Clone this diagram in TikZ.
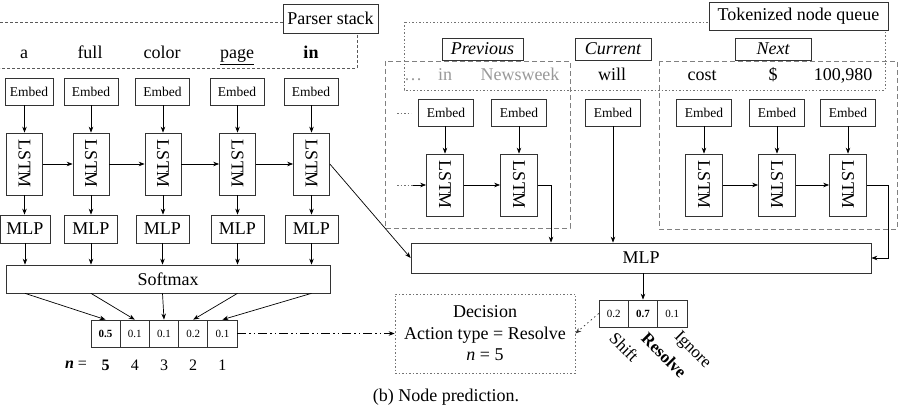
\documentclass[tikz,border=0pt]{standalone}
\usepackage{fontspec}
\usepackage{graphicx}
\setmainfont{Liberation Serif}
\usetikzlibrary{arrows.meta,calc}
\newcommand\fsz[1]{\fontsize{#1}{#1}\selectfont}
\begin{document}
\begin{tikzpicture}[x=1pt,y=-1pt,
  every node/.style={inner sep=0pt, font=\fsz{18}},
  box/.style={draw=black!80, line width=0.7pt, fill=white, inner sep=0pt},
  embedbox/.style={box, minimum width=54pt, minimum height=27pt, font=\fsz{13.5}},
  lstmbox/.style={box, minimum width=36pt, minimum height=62pt, font=\fsz{18}},
  mlpbox/.style={box, minimum width=53pt, minimum height=28pt, font=\fsz{18}},
  cellbox/.style={box, minimum width=29.2pt, minimum height=27pt, font=\fsz{11}},
  tagbox/.style={box, minimum width=76pt, minimum height=22pt, font=\fsz{18}\itshape},
  arr/.style={-{Stealth[length=6pt,width=4.5pt]}, line width=0.7pt, black},
  psdash/.style={draw=black!65, line width=0.6pt, dash pattern=on 3pt off 2pt},
  tqdot/.style={draw=black!55, line width=0.7pt, dash pattern=on 1.5pt off 2pt},
  grpdash/.style={draw=black!50, line width=0.7pt, dash pattern=on 5pt off 3pt},
  ddarrow/.style={-{Stealth[length=6pt,width=4.5pt]}, line width=0.7pt, black, dash pattern=on 9pt off 3pt on 1.5pt off 3pt on 1.5pt off 3pt},
  dotarr/.style={-{Stealth[length=6pt,width=4.5pt]}, line width=0.7pt, black!80, dash pattern=on 1.5pt off 3pt},
  graytext/.style={text=black!40},
  rotlab/.style={anchor=north west, font=\fsz{17}}
]
\useasboundingbox (0,0) rectangle (903,406);

% ---------- Parser stack ----------
\draw[psdash] (0,22) -- (357,22) -- (357,68) -- (0,68);
\node[box, minimum width=95pt, minimum height=29pt] (ps) at (330.5,18.5) {Parser stack};
\node[anchor=base] (w1) at (24,59) {a};
\node[anchor=base] (w2) at (90,59) {full};
\node[anchor=base] (w3) at (162,59) {color};
\node[anchor=base] (w4) at (237,59) {\underline{page}};
\node[anchor=base] (w5) at (311,59) {\textbf{in}};

\node[embedbox, minimum width=48pt] (e1) at (29,91.5) {Embed};
\node[embedbox] (e2) at (91,91.5) {Embed};
\node[embedbox] (e3) at (162.5,91.5) {Embed};
\node[embedbox] (e4) at (237,91.5) {Embed};
\node[embedbox] (e5) at (311,91.5) {Embed};

\node[lstmbox] (l1) at (24.5,164) {\rotatebox{-90}{LSTM}};
\node[lstmbox] (l2) at (91,164) {\rotatebox{-90}{LSTM}};
\node[lstmbox] (l3) at (163,164) {\rotatebox{-90}{LSTM}};
\node[lstmbox] (l4) at (237.5,164) {\rotatebox{-90}{LSTM}};
\node[lstmbox] (l5) at (311.5,164) {\rotatebox{-90}{LSTM}};

\node[mlpbox, minimum width=50pt] (m1) at (25,229) {MLP};
\node[mlpbox] (m2) at (91,229) {MLP};
\node[mlpbox] (m3) at (162.5,229) {MLP};
\node[mlpbox] (m4) at (237.5,229) {MLP};
\node[mlpbox] (m5) at (311.5,229) {MLP};

\node[box, minimum width=324pt, minimum height=28pt] (sm) at (168,279) {Softmax};

\foreach \i in {1,...,5}{
  \draw[arr] (e\i.south -| l\i.north) -- (l\i.north);
  \draw[arr] (l\i.south) -- (l\i.south |- m\i.north);
  \draw[arr] (m\i.south) -- (m\i.south |- sm.north);
}
\draw[arr] (l1.east) -- (l2.west);
\draw[arr] (l2.east) -- (l3.west);
\draw[arr] (l3.east) -- (l4.west);
\draw[arr] (l4.east) -- (l5.west);

\node[cellbox] (c1) at (105.6,333.5) {\textbf{0.5}};
\node[cellbox] (c2) at (134.8,333.5) {0.1};
\node[cellbox] (c3) at (164,333.5) {0.1};
\node[cellbox] (c4) at (193.2,333.5) {0.2};
\node[cellbox] (c5) at (222.4,333.5) {0.1};
\foreach \i in {1,...,5}{
  \draw[arr] (sm.south -| m\i.south) -- (c\i.north);
}

\node[font=\fsz{16}] (nlab) at (76,365) {\textbf{\textit{n}} =};
\node[font=\fsz{16}] (n1) at (c1 |- nlab) {\textbf{5}};
\node[font=\fsz{16}] (n2) at (c2 |- nlab) {4};
\node[font=\fsz{16}] (n3) at (c3 |- nlab) {3};
\node[font=\fsz{16}] (n4) at (c4 |- nlab) {2};
\node[font=\fsz{16}] (n5) at (c5 |- nlab) {1};

% ---------- Decision ----------
\node[tqdot, minimum width=180pt, minimum height=79pt, align=center, font=\fontsize{18}{21.5}\selectfont] (dec) at (485,333.5) {Decision\\Action type = Resolve\\\textit{n} = 5};
\draw[ddarrow] (c5.east) -- (dec.west);

% ---------- Tokenized node queue ----------
\draw[tqdot] (404,22) rectangle (885,90);
\node[box, minimum width=179pt, minimum height=28pt] (tq) at (798.5,16) {Tokenized node queue};

\node[tagbox, minimum width=81pt] (prev) at (482.5,49) {Previous};
\node[tagbox] (cur) at (613,49) {Current};
\node[tagbox] (next) at (773,49) {Next};

\draw[grpdash] (385,61) rectangle (570,228);
\draw[grpdash] (659,61) rectangle (897,229);

\node[anchor=base, graytext] (t0) at (413,81) {\dots};
\node[anchor=base, graytext] (t1) at (445,81) {in};
\node[anchor=base, graytext] (t2) at (520,81) {Newsweek};
\node[anchor=base] (t3) at (612,81) {will};
\node[anchor=base] (t4) at (702,81) {cost};
\node[anchor=base] (t5) at (773,81) {\$};
\node[anchor=base] (t6) at (843,81) {100,980};

\node[embedbox, minimum width=55pt] (pe1) at (446,112.5) {Embed};
\node[embedbox, minimum width=55pt] (pe2) at (519,112.5) {Embed};
\node[embedbox, minimum width=55pt] (ce) at (613,112.5) {Embed};
\node[embedbox, minimum width=55pt] (ne1) at (704,112.5) {Embed};
\node[embedbox, minimum width=55pt] (ne2) at (777,112.5) {Embed};
\node[embedbox, minimum width=55pt] (ne3) at (848,112.5) {Embed};

\node[lstmbox, minimum width=37pt] (pl1) at (445,185) {\rotatebox{-90}{LSTM}};
\node[lstmbox, minimum width=37pt] (pl2) at (519,185) {\rotatebox{-90}{LSTM}};
\node[lstmbox, minimum width=37pt] (nl1) at (704,185) {\rotatebox{-90}{LSTM}};
\node[lstmbox, minimum width=37pt] (nl2) at (777,185) {\rotatebox{-90}{LSTM}};
\node[lstmbox, minimum width=37pt] (nl3) at (848,185) {\rotatebox{-90}{LSTM}};

\node[box, minimum width=460pt, minimum height=30pt] (bm) at (641,258) {MLP};

\coordinate (ed0) at (397,113);
\coordinate (ed1) at (411,113);
\draw[tqdot] (ed0) -- (ed1);
\coordinate (li0) at (397,185);
\coordinate (li1) at (413,185);
\draw[tqdot] (li0) -- (li1);
\draw[arr] (li1) -- (pl1.west);

\draw[arr] (pe1.south -| pl1.north) -- (pl1.north);
\draw[arr] (pe2.south -| pl2.north) -- (pl2.north);
\draw[arr] (ne1.south -| nl1.north) -- (nl1.north);
\draw[arr] (ne2.south -| nl2.north) -- (nl2.north);
\draw[arr] (ne3.south -| nl3.north) -- (nl3.north);
\draw[arr] (pl1.east) -- (pl2.west);
\draw[arr] (nl1.east) -- (nl2.west);
\draw[arr] (nl2.east) -- (nl3.west);

\coordinate (pj) at (551,185);
\draw[arr] (pl2.east) -- (pj) -- (pj |- bm.north);
\draw[arr] (ce.south) -- (ce.south |- bm.north);
\coordinate (nj) at (888,185);
\draw[arr] (nl3.east) -- (nj) |- (bm.east);
\draw[arr] (l5.east) -- (bm.west);

% ---------- Action cells ----------
\node[cellbox] (rc1) at (613.7,313.5) {0.2};
\node[cellbox] (rc2) at (643,313.5) {\textbf{0.7}};
\node[cellbox] (rc3) at (672.3,313.5) {0.1};
\draw[arr] (rc2.north |- bm.south) -- (rc2.north);
\draw[dotarr] (rc1.west) -- (dec.east);

\node[rotlab] (lsh) at (608,331) {\rotatebox{-45}{Shift}};
\node[rotlab] (lre) at (640,331) {\rotatebox{-45}{\textbf{Resolve}}};
\node[rotlab] (lig) at (671,329) {\rotatebox{-45}{Ignore}};

\node[anchor=base] (cap) at (446,401) {(b) Node prediction.};
\end{tikzpicture}
\end{document}
